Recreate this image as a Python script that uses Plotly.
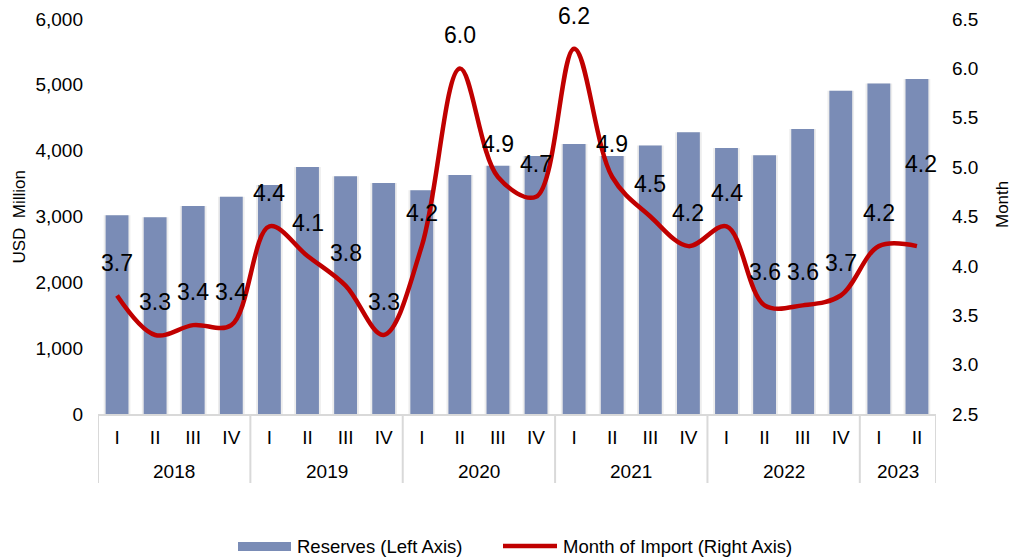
import plotly.graph_objects as go

# dados
anos = ['2018'] * 4 + ['2019'] * 4 + ['2020'] * 4 + ['2021'] * 4 + ['2022'] * 4 + ['2023'] * 2
trimestres = ['I', 'II', 'III', 'IV'] * 5 + ['I', 'II']
reservas = [3020, 2990, 3160, 3300, 3480, 3750, 3610, 3510, 3400, 3630, 3770, 3920,
            4100, 3920, 4080, 4280, 4040, 3930, 4330, 4910, 5020, 5090]
meses_importacao = [3.7, 3.3, 3.4, 3.4, 4.4, 4.1, 3.8, 3.3, 4.2, 6.0, 4.9, 4.7,
                    6.2, 4.9, 4.5, 4.2, 4.4, 3.6, 3.6, 3.7, 4.2, 4.2]

fonte = 'Arial, Liberation Sans, sans-serif'
cor_barra = '#7A8CB6'
cor_sombra = '#EDEDED'
cor_linha = '#C00000'
cor_eixo = '#D9D9D9'

# área do gráfico em pixels (figura 1011x559)
ESQ, DIR, TOPO, BASE = 98, 936, 19, 414


def px_x(p):
    return (p - ESQ) / (DIR - ESQ)


def px_y(p):
    return (BASE - p) / (BASE - TOPO)


categorias = [f'{a} {t}' for a, t in zip(anos, trimestres)]

fig = go.Figure()

# sombra suave das barras (como no Excel)
fig.add_trace(go.Bar(
    x=categorias,
    y=reservas,
    marker=dict(color=cor_sombra, line=dict(width=0)),
    width=0.7,
    hoverinfo='skip',
    showlegend=False,
    yaxis='y'
))

fig.add_trace(go.Bar(
    x=categorias,
    y=reservas,
    name='Reserves (Left Axis)',
    marker=dict(color=cor_barra, line=dict(width=0)),
    width=0.6,
    showlegend=False,
    yaxis='y'
))

fig.add_trace(go.Scatter(
    x=categorias,
    y=meses_importacao,
    name='Month of Import (Right Axis)',
    mode='lines',
    line=dict(color=cor_linha, width=4.5, shape='spline', smoothing=1.0),
    showlegend=False,
    yaxis='y2'
))

# rótulos dos dados, acima da linha
anotacoes = []
for i, v in enumerate(meses_importacao):
    ultimo = i == len(meses_importacao) - 1
    anotacoes.append(dict(
        x=categorias[i], y=v, xref='x', yref='y2',
        text=f'{v:.1f}', showarrow=False,
        yshift=82 if ultimo else 33, xshift=4 if ultimo else 0,
        font=dict(family=fonte, size=23, color='#000000')
    ))

# anos (segundo nível do eixo de categorias) e divisórias
formas = []
inicio = 0
for i in range(1, len(anos) + 1):
    if i == len(anos) or anos[i] != anos[inicio]:
        anotacoes.append(dict(
            x=(inicio + i - 1) / 2, y=px_y(472), xref='x', yref='paper',
            text=anos[inicio], showarrow=False, yanchor='middle',
            font=dict(family=fonte, size=19, color='#000000')
        ))
        formas.append(dict(
            type='line', xref='x', yref='paper',
            x0=inicio - 0.5, x1=inicio - 0.5, y0=0, y1=px_y(483),
            line=dict(color=cor_eixo, width=2)
        ))
        inicio = i
formas.append(dict(
    type='line', xref='x', yref='paper',
    x0=len(anos) - 0.5, x1=len(anos) - 0.5, y0=0, y1=px_y(483),
    line=dict(color=cor_eixo, width=2)
))

# legenda desenhada à mão, com ícones largos como na original
formas.append(dict(
    type='rect', xref='paper', yref='paper',
    x0=px_x(238), x1=px_x(291), y0=px_y(542), y1=px_y(551),
    fillcolor=cor_barra, line=dict(width=0)
))
formas.append(dict(
    type='line', xref='paper', yref='paper',
    x0=px_x(503), x1=px_x(557), y0=px_y(546), y1=px_y(546),
    line=dict(color=cor_linha, width=4.5)
))
anotacoes.append(dict(
    x=px_x(295), y=px_y(546), xref='paper', yref='paper',
    text='Reserves (Left Axis)', showarrow=False,
    xanchor='left', yanchor='middle',
    font=dict(family=fonte, size=18.5, color='#000000')
))
anotacoes.append(dict(
    x=px_x(561), y=px_y(546), xref='paper', yref='paper',
    text='Month of Import (Right Axis)', showarrow=False,
    xanchor='left', yanchor='middle',
    font=dict(family=fonte, size=18.5, color='#000000')
))

# títulos dos eixos
anotacoes.append(dict(
    x=px_x(19), y=0.5, xref='paper', yref='paper',
    text='USD  Million', showarrow=False, textangle=-90,
    xanchor='center', yanchor='middle',
    font=dict(family=fonte, size=17, color='#000000')
))
anotacoes.append(dict(
    x=px_x(1003), y=px_y(205), xref='paper', yref='paper',
    text='Month', showarrow=False, textangle=-90,
    xanchor='center', yanchor='middle',
    font=dict(family=fonte, size=17, color='#000000')
))

fig.update_layout(
    width=1011, height=559,
    margin=dict(l=ESQ, r=1011 - DIR, t=TOPO, b=559 - BASE),
    plot_bgcolor='white', paper_bgcolor='white',
    font=dict(family=fonte, size=19, color='#000000'),
    barmode='overlay',
    xaxis=dict(
        type='category', automargin=False,
        tickvals=categorias, ticktext=trimestres,
        showline=True, linecolor=cor_eixo, linewidth=2,
        showgrid=False, ticks='', ticklabelstandoff=5,
        range=[-0.5, len(categorias) - 0.5],
        tickfont=dict(size=19)
    ),
    yaxis=dict(
        range=[0, 6000], dtick=1000, tickformat=',', automargin=False,
        showgrid=False, showline=False, zeroline=False,
        ticklabelstandoff=14,
        tickfont=dict(size=19)
    ),
    yaxis2=dict(
        range=[2.5, 6.5], dtick=0.5, tickformat='.1f', automargin=False,
        overlaying='y', side='right',
        showgrid=False, showline=False, zeroline=False,
        ticklabelstandoff=15,
        tickfont=dict(size=19)
    ),
    showlegend=False,
    shapes=formas,
    annotations=anotacoes
)

# tira a margem padrão do <body> para a figura caber certinho na janela
fig.write_html('out.html', config={'displayModeBar': False},
               post_script="document.body.style.margin='0';")
